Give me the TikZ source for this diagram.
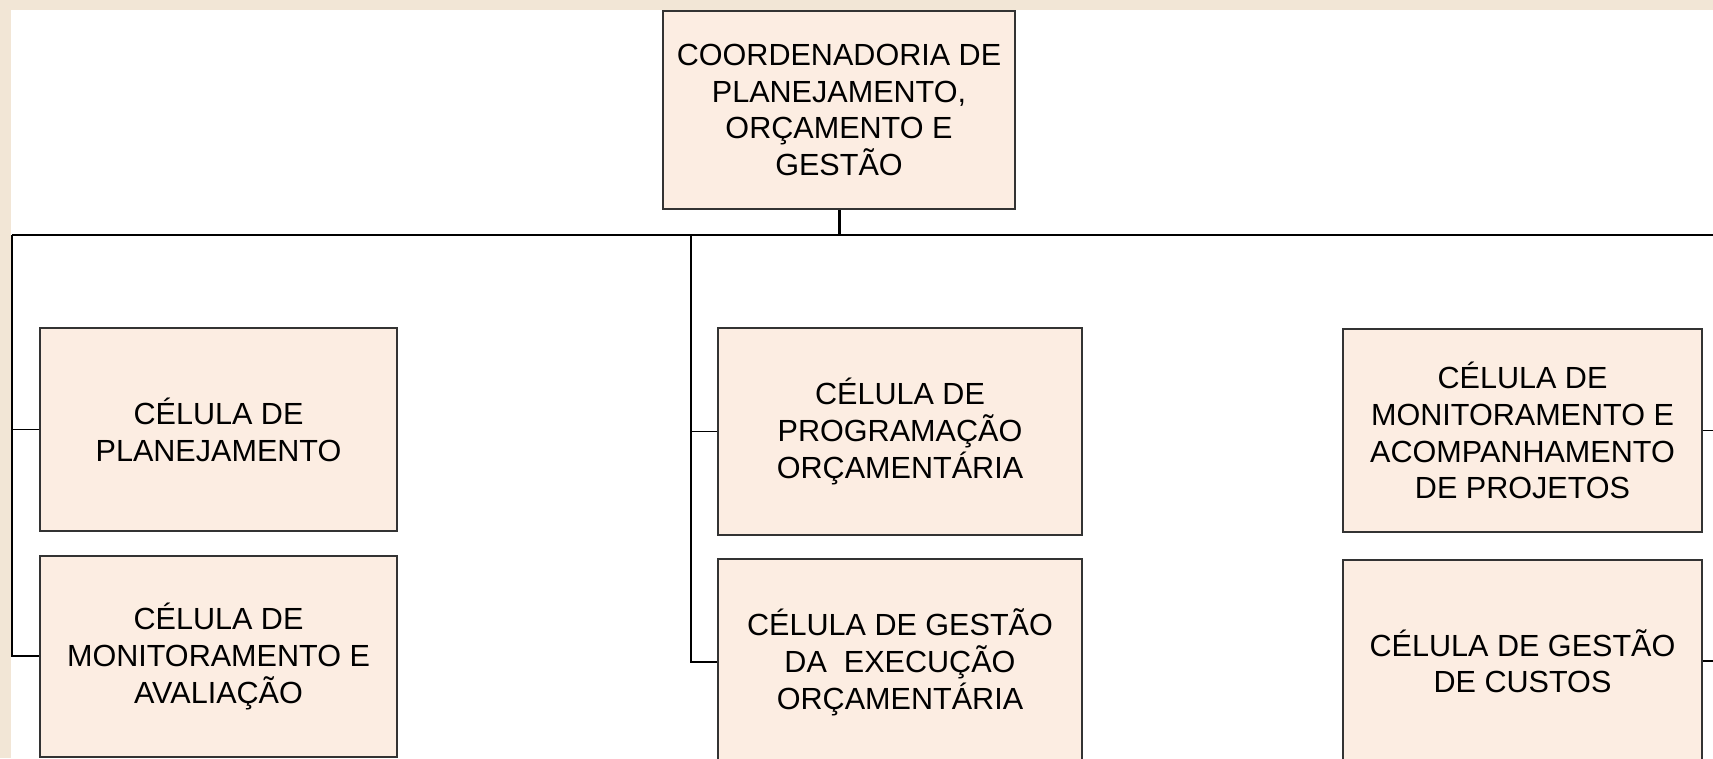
\documentclass[tikz,border=0pt]{standalone}
\usepackage{fontspec}
\setmainfont{Liberation Sans}
\usepackage{tikz}
\usetikzlibrary{positioning,calc}
\definecolor{cellfill}{RGB}{252,237,226}
\definecolor{slideband}{RGB}{242,230,214}

\begin{document}
\begin{tikzpicture}[x=0.02cm,y=-0.02cm,
	cell/.style={draw=black!80,fill=cellfill,line width=1pt,minimum width=7.14cm,minimum height=4.06cm,inner sep=0pt,align=center,font=\fontsize{17.4}{21}\selectfont},
	link/.style={line width=0.9pt}]
	\useasboundingbox (0,0) rectangle (1713,758);
	\fill[slideband] (0,0) rectangle (1713,758);
	\fill[white] (11,10) rectangle (1713,758);
	\clip (0,0) rectangle (1713,758);
	\node[cell,minimum width=7.04cm,minimum height=3.96cm] (coord) at (839,110) {COORDENADORIA DE\\PLANEJAMENTO,\\ORÇAMENTO E\\GESTÃO};
	\node[cell] (plan) at (218.5,429.5) {CÉLULA DE\\PLANEJAMENTO};
	\node[cell,minimum height=4.02cm,below=0.46cm of plan] (aval) {CÉLULA DE\\MONITORAMENTO E\\AVALIAÇÃO};
	\node[cell,minimum width=7.28cm,minimum height=4.14cm] (prog) at (900,431.5) {CÉLULA DE\\PROGRAMAÇÃO\\ORÇAMENTÁRIA};
	\node[cell,minimum width=7.28cm,minimum height=4.14cm,below=0.44cm of prog] (exec) {CÉLULA DE GESTÃO\\DA\ \ EXECUÇÃO\\ORÇAMENTÁRIA};
	\node[cell,minimum width=7.18cm] (proj) at (1522.5,430.5) {CÉLULA DE\\MONITORAMENTO E\\ACOMPANHAMENTO\\DE PROJETOS};
	\node[cell,minimum width=7.18cm,below=0.52cm of proj] (custo) {CÉLULA DE GESTÃO\\DE CUSTOS};
	\coordinate (busL) at (12,235);
	\coordinate (busM) at (691,235);
	\coordinate (busR) at (1713,235);
	\draw[link] (busL) -- (busR);
	\draw[line width=1.7pt] (coord.south) -- (coord.south |- busL);
	\draw[link] (busL) |- (aval.west);
	\draw[link] (busL |- plan.west) -- (plan.west);
	\draw[link] (busM) |- (exec.west);
	\draw[link] (busM |- prog.west) -- (prog.west);
	\draw[link] (proj.east) -- (proj.east -| busR);
	\draw[link] (custo.east) -- (custo.east -| busR);
\end{tikzpicture}
\end{document}
